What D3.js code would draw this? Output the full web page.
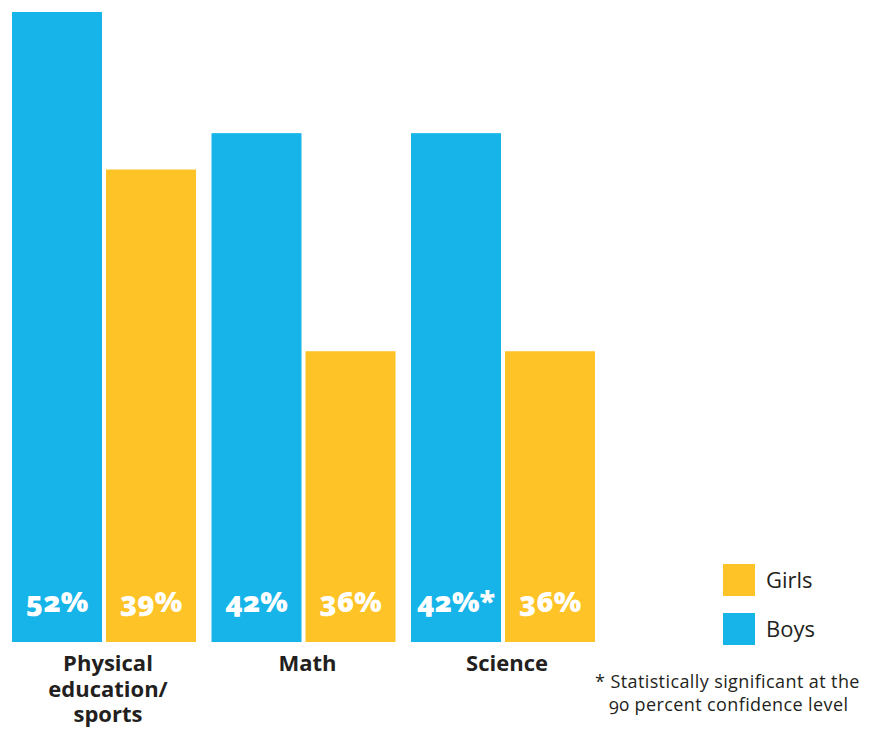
<!DOCTYPE html>
<html><head><meta charset="utf-8">
<script src="https://cdn.jsdelivr.net/npm/d3@7"></script>
<style>
body{margin:0;background:#fff;}
svg{display:block;}
text{font-family:"Open Sans","Noto Sans",sans-serif;}
</style></head>
<body>
<script>
// Data
const categories = [["Physical","education/","sports"],["Math"],["Science"]];
const boys  = [52, 42, 42];            // bar heights as drawn
const girls = [39, 24, 24];            // bar heights as drawn
const boysLabels  = ["52%", "42%", "42%*"];
const girlsLabels = ["39%", "36%", "36%"];
const seriesNames = ["Girls", "Boys"];
const colors = {Boys: "#16B4E9", Girls: "#FEC326"};
const footnote = ["* Statistically significant at the", "90 percent confidence level"];

const W = 887, H = 730;
const svg = d3.select("body").append("svg").attr("width", W).attr("height", H);

const x0 = d3.scaleBand().domain(d3.range(categories.length)).range([12, 595]).paddingInner(0.0777).paddingOuter(0);
const x1 = d3.scaleBand().domain(["Boys","Girls"]).range([0, x0.bandwidth()]).paddingInner(0.0426);
const y = d3.scaleLinear().domain([0, 52]).range([642, 12]);

const rows = categories.map((c, i) => ({i, Boys: boys[i], Girls: girls[i], bl: boysLabels[i], gl: girlsLabels[i]}));

const g = svg.append("g");
const groups = g.selectAll("g.grp").data(rows).join("g").attr("class","grp")
  .attr("transform", d => `translate(${x0(d.i)},0)`);

groups.selectAll("rect").data(d => ["Boys","Girls"].map(k => ({k, v: d[k]})))
  .join("rect")
  .attr("x", d => x1(d.k)).attr("width", x1.bandwidth())
  .attr("y", d => y(d.v)).attr("height", d => y(0) - y(d.v))
  .attr("fill", d => colors[d.k]);

groups.selectAll("text.val").data(d => ["Boys","Girls"].map(k => ({k, label: k==="Boys"? d.bl : d.gl})))
  .join("text").attr("class","val")
  .attr("x", d => x1(d.k) + x1.bandwidth()/2)
  .attr("y", 612)
  .attr("text-anchor","middle")
  .attr("fill","#fff")
  .attr("font-weight","800")
  .attr("font-size", 29)
  .style("font-variant-numeric","oldstyle-nums")
  .text(d => d.label);

// category labels
groups.append("text")
  .attr("text-anchor","middle")
  .attr("fill","#231F20")
  .attr("font-weight","700")
  .attr("font-size", 22)
  .selectAll("tspan").data(d => categories[d.i]).join("tspan")
  .attr("x", x0.bandwidth()/2 + 4)
  .attr("y", (d, j) => 671 + j*25.5)
  .text(d => d);

// legend
const leg = svg.append("g").selectAll("g").data(seriesNames).join("g")
  .attr("transform", (d, i) => `translate(723,${564 + i*49})`);
leg.append("rect").attr("width", 32).attr("height", 32).attr("fill", d => colors[d]);
leg.append("text").attr("x", 43).attr("y", 24).attr("font-size", 22).attr("fill","#231F20").text(d => d);

// footnote
svg.append("text").attr("font-size", 18).attr("fill","#231F20").attr("letter-spacing", 0.4)
  .selectAll("tspan").data(footnote).join("tspan")
  .attr("x", (d, i) => i === 0 ? 595 : 609)
  .attr("y", (d, i) => 688 + i*23)
  .style("font-variant-numeric","oldstyle-nums")
  .text(d => d);
</script>
</body></html>
